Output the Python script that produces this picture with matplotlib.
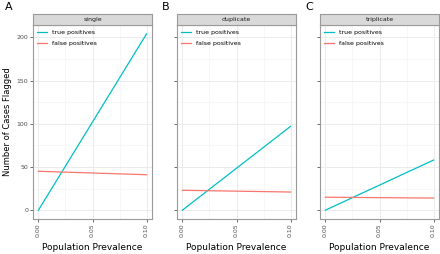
import matplotlib
matplotlib.use("Agg")
import matplotlib.pyplot as plt

prevalence = [0.0, 0.10]
panels = ["single", "duplicate", "triplicate"]
letters = ["A", "B", "C"]
true_pos = [[0, 204], [0, 97], [0, 58]]
false_pos = [[45, 41], [23, 21], [15, 14]]
y_ticks = [0, 50, 100, 150, 200]
x_ticks = [0.00, 0.05, 0.10]
x_tick_labels = ["0.00", "0.05", "0.10"]

TEAL = "#00BFC4"
RED = "#F8766D"

fig = plt.figure(figsize=(4.4, 2.54), dpi=100)
W, H = 440, 254
lefts = [33, 177, 320]
pw = 119
top_px, bot_px, strip_h = 25, 219, 11

ymax = 204
for i, name in enumerate(panels):
    ax = fig.add_axes([lefts[i] / W, (H - bot_px) / H, pw / W, (bot_px - top_px) / H])
    ax.set_xlim(-0.005, 0.105)
    ax.set_ylim(-0.05 * ymax, 1.05 * ymax)
    for xm in [0.025, 0.075]:
        ax.axvline(xm, color="#F2F2F2", lw=0.4, zorder=0)
    for ym in [25, 75, 125, 175]:
        ax.axhline(ym, color="#F2F2F2", lw=0.4, zorder=0)
    for xv in x_ticks:
        ax.axvline(xv, color="#EBEBEB", lw=0.7, zorder=0)
    for yv in y_ticks:
        ax.axhline(yv, color="#EBEBEB", lw=0.7, zorder=0)
    ax.plot(prevalence, true_pos[i], color=TEAL, lw=0.9, label="true positives")
    ax.plot(prevalence, false_pos[i], color=RED, lw=0.9, label="false positives")
    ax.set_xticks(x_ticks)
    ax.set_xticklabels(x_tick_labels, rotation=90, fontsize=4.5, color="#4D4D4D")
    ax.set_yticks(y_ticks)
    if i == 0:
        ax.set_yticklabels([str(v) for v in y_ticks], fontsize=4.5, color="#4D4D4D")
        ax.set_ylabel("Number of Cases Flagged", fontsize=6, labelpad=3)
    else:
        ax.set_yticklabels([])
        ax.tick_params(axis="y", length=0)
    ax.tick_params(length=2, width=0.5, color="#333333", pad=1.5)
    fig.text((lefts[i] + pw / 2) / W, 1 - 247 / H, "Population Prevalence",
             fontsize=6.5, ha="center", va="center")
    for s in ax.spines.values():
        s.set_color("#9A9A9A")
        s.set_linewidth(0.8)
    ax.legend(loc="upper left", fontsize=4.5, frameon=False,
              handlelength=1.6, borderaxespad=0.3, labelspacing=0.9,
              bbox_to_anchor=(0.0, 1.0))
    sax = fig.add_axes([lefts[i] / W, (H - top_px) / H, pw / W, strip_h / H])
    sax.set_xticks([]); sax.set_yticks([])
    sax.set_facecolor("#D9D9D9")
    for s in sax.spines.values():
        s.set_color("#9A9A9A")
        s.set_linewidth(0.8)
    sax.text(0.5, 0.5, name, ha="center", va="center", fontsize=4.5, color="#1A1A1A",
             transform=sax.transAxes)
    fig.text((lefts[i] - 28 if i == 0 else lefts[i] - 15) / W, 1 - 7 / H, letters[i],
             fontsize=8, ha="left", va="center")

fig.savefig("out.png", dpi=100)
